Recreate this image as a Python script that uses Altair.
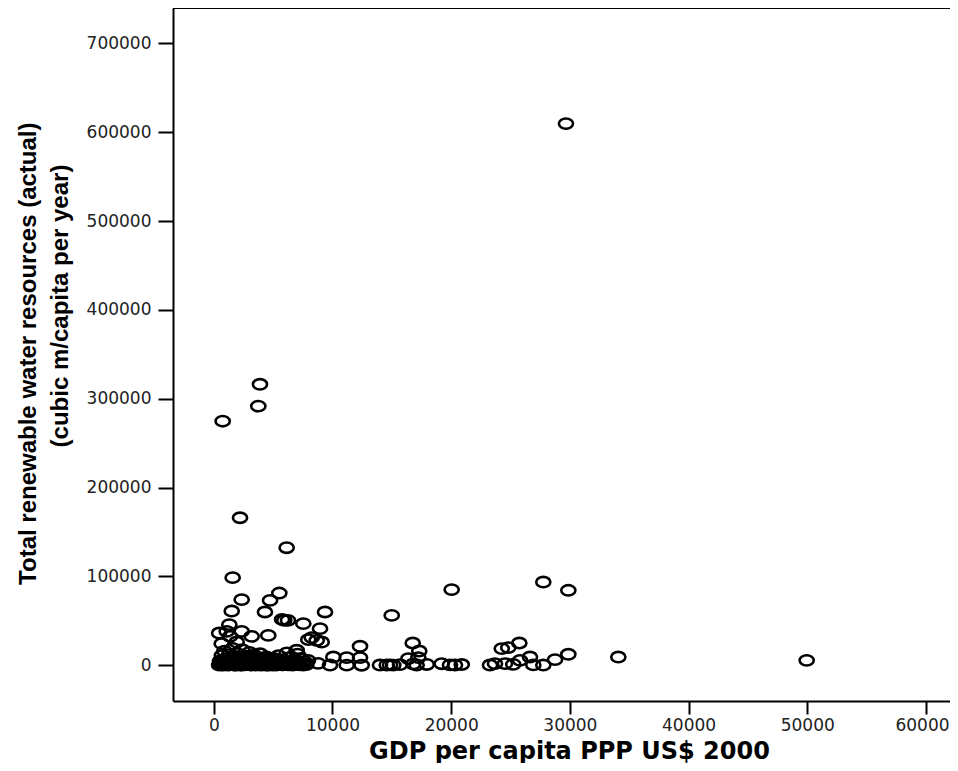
import altair as alt
import pandas as pd

# GDP per capita (PPP US$ 2000) and total renewable water resources (m3/capita/year)
gdp_scatter = [29670, 3890, 3750, 750, 2210, 6140, 1590, 27760, 29870, 20040,
               5520, 2350, 4740, 1510, 4310, 9370, 14990, 5940, 6250, 5750,
               7540, 1310, 8950, 450, 1090, 2350, 3190, 4590, 1370, 8250,
               8670, 9090, 7960, 670, 1930, 12320, 6980, 10070, 11200, 12320,
               8780, 9790, 11200, 12460, 14000, 14850, 7940, 16760, 17310, 16390,
               17230, 17090, 14570, 15120, 15690, 16810, 17940, 19200, 19900, 20320,
               20890, 24260, 24810, 25740, 23270, 23690, 24530, 25230, 25800, 26640,
               26920, 27760, 28750, 29870, 34080, 49950]
water_scatter = [609700, 316300, 291700, 274800, 166100, 132400, 98700, 93700, 84400, 85200,
                 81300, 73900, 73100, 61100, 60000, 60000, 56200, 50600, 50600, 51700,
                 46900, 45800, 41300, 36300, 38200, 38200, 32600, 33700, 32600, 31200,
                 28100, 26200, 28900, 24400, 26200, 21400, 16900, 9300, 8700, 8700,
                 2200, 300, 200, 150, 300, 500, 5600, 25100, 16100, 7500,
                 8700, 300, 400, 200, 800, 1500, 1000, 1800, 500, 300,
                 900, 18800, 19900, 25100, 300, 1900, 1900, 1100, 5600, 9300,
                 500, 300, 6400, 12400, 9300, 5600]

gdp_cluster = [450, 520, 600, 680, 750, 820, 900, 980, 1050, 1120,
               1200, 1280, 1350, 1430, 1500, 1580, 1650, 1720, 1800, 1880,
               1950, 2030, 2100, 2180, 2250, 2330, 2400, 2480, 2550, 2630,
               2700, 2780, 2860, 2930, 3000, 3080, 3150, 3230, 3300, 3380,
               3450, 3530, 3600, 3680, 3760, 3830, 3900, 3980, 4050, 4130,
               4200, 4280, 4350, 4430, 4520, 4600, 4680, 4760, 4850, 4950,
               5050, 5150, 5250, 5350, 5450, 5550, 5650, 5750, 5850, 5950,
               6050, 6150, 6250, 6350, 6450, 6550, 6650, 6750, 6850, 6950,
               7050, 7150, 7250, 7350, 7450, 7550, 7650, 7800,
               560, 710, 860, 1010, 1160, 1310, 1460, 1610, 1760, 1910,
               2060, 2210, 2360, 2510, 2660, 2810, 2960, 3110, 3260, 3410,
               3560, 3710, 3860, 4010, 4160, 4310, 4460, 4610, 4760, 4910,
               5060, 5210, 5360, 5510, 5660, 5810, 5960, 6110, 6260, 6410]
water_cluster = [200, 5000, 1200, 11000, 300, 3500, 16000, 700, 7500, 2200,
                 400, 12000, 5200, 900, 2800, 19000, 600, 8400, 3600, 200,
                 13500, 4700, 1000, 9800, 300, 6200, 17500, 1500, 3000, 500,
                 10500, 4100, 800, 7000, 14500, 2000, 400, 5600, 900, 11500,
                 2600, 300, 8000, 1300, 4500, 600, 13000, 2300, 300, 6800,
                 1100, 3400, 500, 9300, 1800, 200, 5100, 900, 2700, 400,
                 7600, 1400, 300, 3900, 10800, 800, 2100, 500, 6100, 1200,
                 3000, 14000, 700, 4400, 1900, 9000, 300, 2600, 5800, 1000,
                 12500, 3300, 600, 7700, 1600, 300, 4200, 900,
                 2500, 600, 4200, 1800, 3300, 700, 6500, 2200, 400, 8800,
                 1500, 5400, 300, 3700, 900, 7200, 2000, 500, 4800, 1200,
                 9600, 2900, 600, 5900, 1600, 3800, 400, 7100, 1300, 4600,
                 800, 2400, 6300, 1000, 3200, 500, 5300, 1700, 8300, 700]

x_ticks = [0, 10000, 20000, 30000, 40000, 50000, 60000]
y_ticks = [0, 100000, 200000, 300000, 400000, 500000, 600000, 700000]

x_title = "GDP per capita PPP US$ 2000"
y_title_1 = "Total renewable water resources (actual)"
y_title_2 = "(cubic m/capita per year)"

df = pd.DataFrame({
    "gdp": gdp_scatter + gdp_cluster,
    "water": water_scatter + water_cluster,
})

W, H = 777, 693
ELLIPSE = "M-1,0A1,0.73,0,1,1,1,0A1,0.73,0,1,1,-1,0Z"

points = alt.Chart(df).mark_point(
    shape=ELLIPSE, filled=False, color="black", strokeWidth=2.6, size=200, opacity=1
).encode(
    x=alt.X("gdp:Q",
            scale=alt.Scale(domain=[-3437, 62024], nice=False, zero=False),
            axis=alt.Axis(values=x_ticks, format="d", grid=False,
                          title=x_title,
                          titleFont="DejaVu Sans", titleFontSize=24, titleFontWeight="bold",
                          titleColor="black", titleBaseline="alphabetic",
                          titleX=396, titleY=57,
                          labelFont="DejaVu Sans", labelFontSize=17, labelColor="#222",
                          labelOffset=alt.condition("datum.value == 60000",
                                                    alt.value(-4), alt.value(0)),
                          labelPadding=3, tickSize=13, tickWidth=2, tickColor="black",
                          domainColor="black", domainWidth=2)),
    y=alt.Y("water:Q",
            scale=alt.Scale(domain=[-40157, 739820], nice=False, zero=False),
            axis=alt.Axis(values=y_ticks, format="d", grid=False,
                          title=y_title_1,
                          titleFont="Liberation Sans", titleFontSize=24,
                          titleFontWeight="bold", titleColor="black",
                          titleAngle=270, titleAlign="right", titleBaseline="alphabetic",
                          titleX=-138, titleY=114,
                          labelFont="DejaVu Sans", labelFontSize=17, labelColor="#222",
                          labelPadding=7, tickSize=15, tickWidth=2, tickColor="black",
                          domainColor="black", domainWidth=2)),
)

# second line of the y-axis title (offset along the axis, as in the original)
y_title_line2 = alt.Chart(pd.DataFrame({"t": [y_title_2]})).mark_text(
    angle=270, font="Liberation Sans", fontSize=24, fontWeight="bold",
    color="black", align="center", baseline="alphabetic"
).encode(x=alt.value(-105), y=alt.value(298), text="t:N")

top_border = alt.Chart(pd.DataFrame({"a": [0]})).mark_rule(
    color="black", strokeWidth=2
).encode(x=alt.value(0), x2=alt.value(W), y=alt.value(0))

chart = alt.layer(points, y_title_line2, top_border).properties(
    width=W, height=H,
    autosize=alt.AutoSizeParams(type="none"),
    padding={"left": 165, "top": 0, "right": 0, "bottom": 62},
    background="white",
).configure_view(stroke=None)

chart.save("out.html", embed_options={"renderer": "svg", "actions": False})
